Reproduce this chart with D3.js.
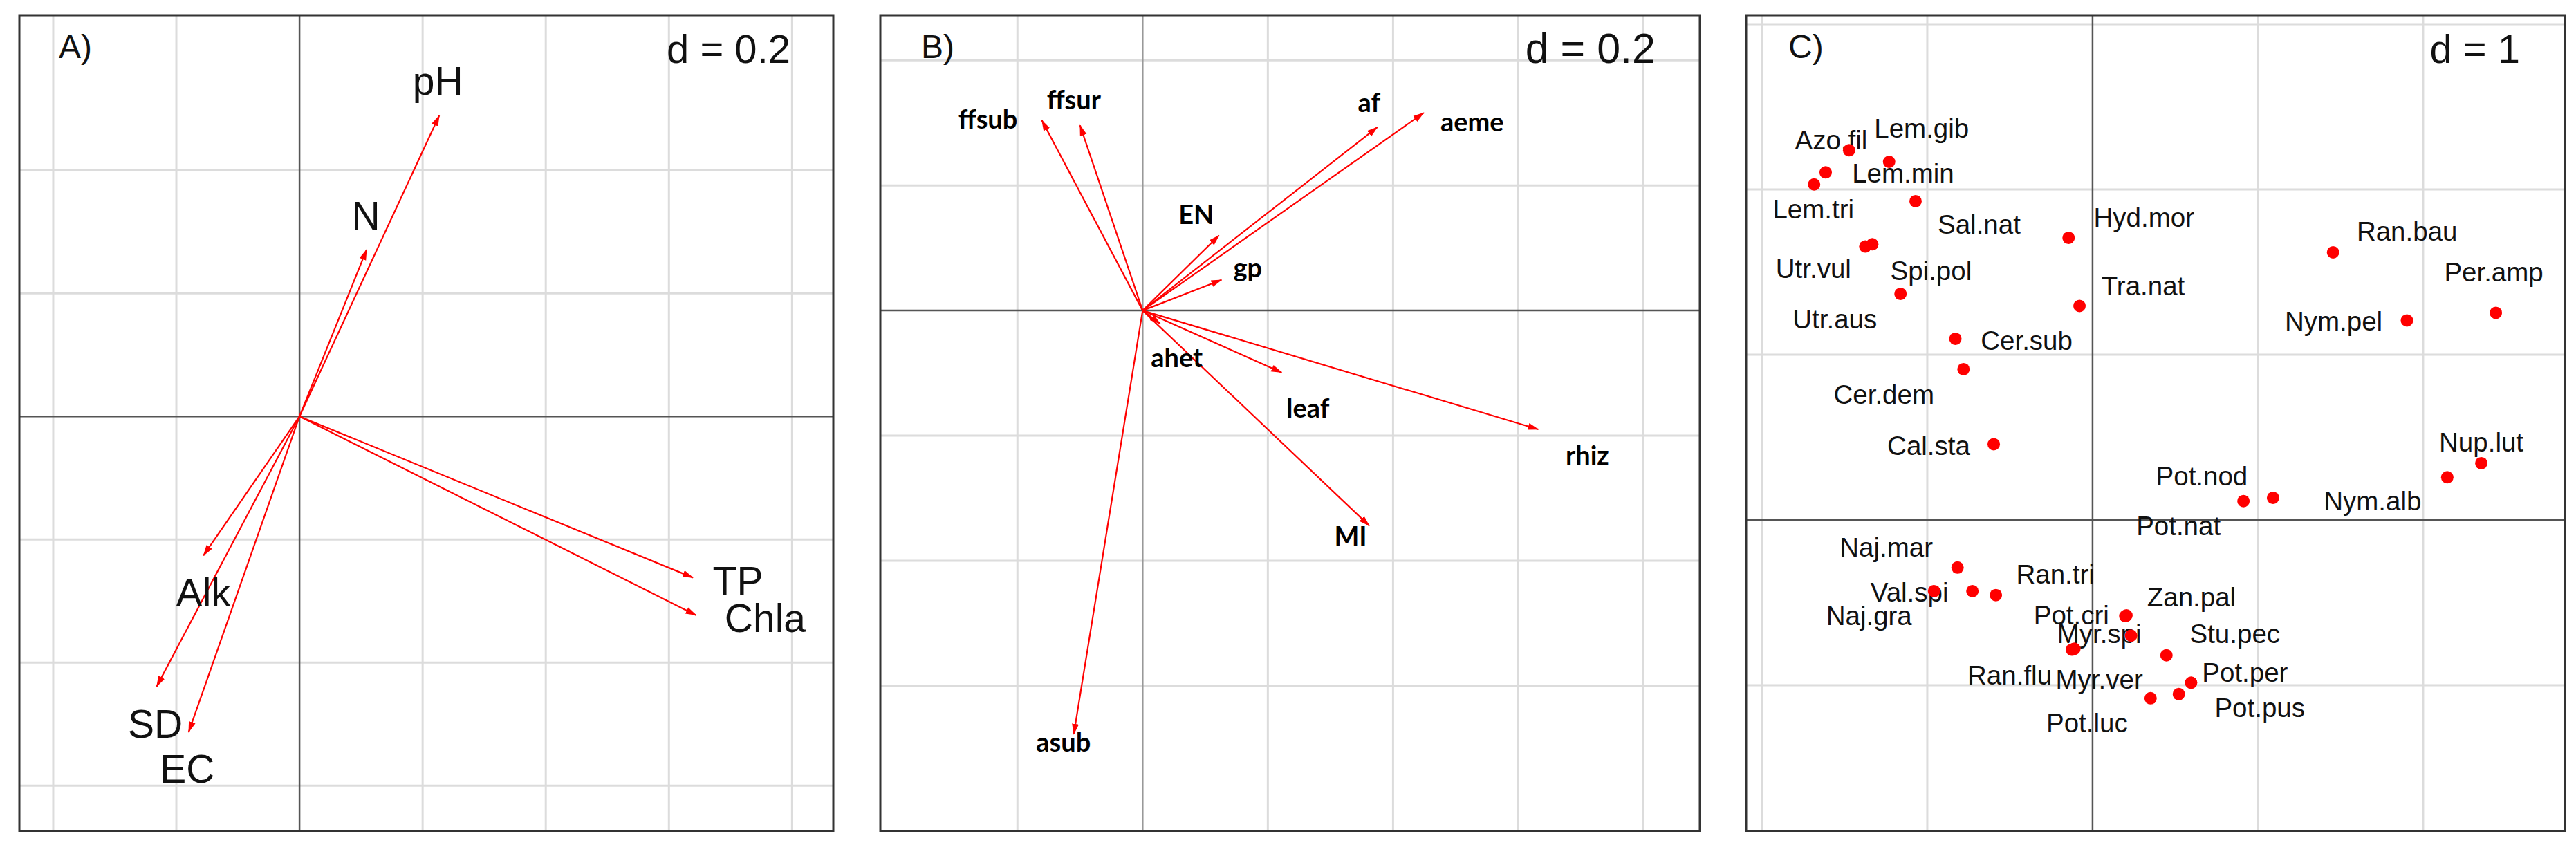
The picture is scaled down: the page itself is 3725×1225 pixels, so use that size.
<!DOCTYPE html>
<html>
<head>
<meta charset="utf-8">
<script src="https://cdn.jsdelivr.net/npm/d3@7"></script>
<style>
  body { margin: 0; background: #fff; }
  svg { display: block; }
</style>
</head>
<body>
<script>
// panel A: environmental variables (arrows)
var envNames = ["pH", "N", "TP", "Chla", "Alk", "SD", "EC"];
var envX = [0.227, 0.109, 0.639, 0.644, -0.156, -0.232, -0.180];
var envY = [0.489, 0.271, -0.262, -0.323, -0.226, -0.439, -0.513];

// panel B: traits (arrows)
var traitNames = ["ffsub", "ffsur", "af", "aeme", "EN", "gp", "ahet", "leaf", "rhiz", "MI", "asub"];
var traitX = [-0.161, -0.100, 0.375, 0.449, 0.122, 0.126, 0.028, 0.222, 0.632, 0.362, -0.110];
var traitY = [0.304, 0.296, 0.293, 0.316, 0.120, 0.049, -0.021, -0.099, -0.190, -0.344, -0.677];

// panel C: species (points)
var spNames = ["Azo.fil", "Lem.gib", "Lem.min", "Lem.tri", "Sal.nat", "Utr.vul", "Spi.pol", "Utr.aus",
  "Hyd.mor", "Tra.nat", "Cer.sub", "Cer.dem", "Cal.sta", "Ran.bau", "Nym.pel", "Per.amp",
  "Nup.lut", "Nym.alb", "Pot.nat", "Pot.nod", "Naj.mar", "Naj.gra", "Val.spi", "Ran.tri",
  "Pot.cri", "Zan.pal", "Myr.spi", "Ran.flu", "Myr.ver", "Stu.pec", "Pot.per", "Pot.pus", "Pot.luc"];
var spX = [-1.473, -1.231, -1.615, -1.685, -1.071, -1.375, -1.333, -1.162,
  -0.145, -0.079, -0.830, -0.781, -0.598, 1.455, 1.902, 2.440,
  2.352, 2.146, 0.913, 1.092, -0.817, -0.959, -0.727, -0.585,
  0.198, 0.205, 0.233, -0.125, -0.110, 0.447, 0.596, 0.522, 0.351];
var spY = [2.237, 2.167, 2.103, 2.030, 1.929, 1.654, 1.668, 1.368,
  1.707, 1.295, 1.096, 0.912, 0.458, 1.619, 1.207, 1.253,
  0.343, 0.258, 0.114, 0.134, -0.288, -0.431, -0.431, -0.455,
  -0.582, -0.578, -0.700, -0.785, -0.780, -0.819, -0.985, -1.054, -1.079];

// grid ticks
var gridA_x = [-0.4, -0.2, 0.2, 0.4, 0.6, 0.8], gridA_y = [-0.6, -0.4, -0.2, 0.2, 0.4];
var gridB_x = [-0.2, 0.2, 0.4, 0.6, 0.8], gridB_y = [-0.6, -0.4, -0.2, 0.2, 0.4];
var gridC_x = [-2, -1, 1, 2], gridC_y = [-1, 1, 2, 3];

// label nudges in px (label baseline relative to tip / point)
var nudgeA = {pH: [-2, -30], N: [-1, -29], TP: [65, 25], Chla: [100, 24], Alk: [0, 74], SD: [-2, 74], EC: [-2, 73]};
var nudgeB = {ffsub: [-78, 12], ffsur: [-9, -23], af: [-12, -22], aeme: [70, 27], EN: [-33, -17], gp: [38, -4],
  ahet: [24, 63], leaf: [38, 65], rhiz: [71, 51], MI: [-27, 29], asub: [-15, 25]};
var nudgeC = {"Azo.fil": [-26, -1], "Lem.gib": [47, -35], "Lem.min": [112, 15], "Lem.tri": [-1, 49],
  "Sal.nat": [92, 47], "Utr.vul": [-75, 45], "Spi.pol": [85, 52], "Utr.aus": [-95, 50],
  "Hyd.mor": [109, -16], "Tra.nat": [92, -15], "Cer.sub": [103, 16], "Cer.dem": [-115, 50],
  "Cal.sta": [-94, 16], "Ran.bau": [107, -17], "Nym.pel": [-106, 15], "Per.amp": [-3, -45],
  "Nup.lut": [0, -17], "Nym.alb": [-108, 48], "Pot.nat": [-94, 49], "Pot.nod": [-103, -18],
  "Naj.mar": [-103, -16], "Naj.gra": [-94, 49], "Val.spi": [-91, 15], "Ran.tri": [86, -17],
  "Pot.cri": [-78, 12], "Zan.pal": [94, -13], "Myr.spi": [-46, 11], "Ran.flu": [-90, 50],
  "Myr.ver": [36, 58], "Stu.pec": [99, -18], "Pot.per": [78, -1], "Pot.pus": [117, 33], "Pot.luc": [-92, 49]};

var W = 3725, H = 1225;
var svg = d3.select("body").append("svg").attr("width", W).attr("height", H);
svg.append("rect").attr("width", W).attr("height", H).attr("fill", "#fff");

// arrow head
svg.append("defs").append("marker")
  .attr("id", "head")
  .attr("markerUnits", "userSpaceOnUse")
  .attr("viewBox", "0 -6 16 12")
  .attr("refX", 15).attr("refY", 0)
  .attr("markerWidth", 16).attr("markerHeight", 12)
  .attr("orient", "auto")
  .append("path").attr("d", "M0,-5L16,0L0,5Z").attr("fill", "#ff0000");

var arial = "'Liberation Sans', Arial, sans-serif";

// set up a panel: scales, grid, axes, frame, titles
function panel(opt) {
  var x = d3.scaleLinear().domain(opt.xd).range([opt.left, opt.right]);
  var y = d3.scaleLinear().domain(opt.yd).range([opt.bottom, opt.top]);
  var g = svg.append("g");

  g.selectAll(".gx").data(opt.gx).enter().append("line")
    .attr("x1", d => x(d)).attr("x2", d => x(d))
    .attr("y1", opt.top).attr("y2", opt.bottom)
    .attr("stroke", "#dcdcdc").attr("stroke-width", 3);
  g.selectAll(".gy").data(opt.gy).enter().append("line")
    .attr("y1", d => y(d)).attr("y2", d => y(d))
    .attr("x1", opt.left).attr("x2", opt.right)
    .attr("stroke", "#dcdcdc").attr("stroke-width", 3);

  // zero lines
  g.append("line").attr("x1", x(0)).attr("x2", x(0)).attr("y1", opt.top).attr("y2", opt.bottom)
    .attr("stroke", opt.vaxis || "#555").attr("stroke-width", 2.5);
  g.append("line").attr("y1", y(0)).attr("y2", y(0)).attr("x1", opt.left).attr("x2", opt.right)
    .attr("stroke", "#555").attr("stroke-width", 2.5);

  // frame
  g.append("rect").attr("x", opt.left).attr("y", opt.top)
    .attr("width", opt.right - opt.left).attr("height", opt.bottom - opt.top)
    .attr("fill", "none").attr("stroke", "#333").attr("stroke-width", 3);

  g.append("text").attr("x", opt.left + opt.tagDx).attr("y", opt.top + 62)
    .attr("font-family", arial).attr("font-size", 48).attr("fill", "#111").text(opt.tag);
  g.append("text").attr("x", opt.right - opt.dDx).attr("y", opt.top + 69)
    .attr("text-anchor", "end").attr("font-family", arial).attr("font-size", opt.dSize)
    .attr("fill", "#111").text(opt.dText);

  return {x: x, y: y, g: g};
}

// A)
var pA = panel({xd: [-0.455, 0.867], yd: [-0.674, 0.652], left: 28, right: 1205, top: 22, bottom: 1202,
  gx: gridA_x, gy: gridA_y, tag: "A)", tagDx: 57, dText: "d = 0.2", dDx: 62, dSize: 58});

pA.g.selectAll(".arr").data(envNames).enter().append("line")
  .attr("x1", pA.x(0)).attr("y1", pA.y(0))
  .attr("x2", (d, i) => pA.x(envX[i])).attr("y2", (d, i) => pA.y(envY[i]))
  .attr("stroke", "#ff0000").attr("stroke-width", 2.2).attr("marker-end", "url(#head)");

pA.g.selectAll(".lab").data(envNames).enter().append("text")
  .attr("x", (d, i) => pA.x(envX[i]) + nudgeA[d][0])
  .attr("y", (d, i) => pA.y(envY[i]) + nudgeA[d][1])
  .attr("text-anchor", "middle").attr("font-family", arial).attr("font-size", 57)
  .attr("fill", "#111").text(d => d);

// B)
var pB = panel({xd: [-0.419, 0.890], yd: [-0.832, 0.472], left: 1273, right: 2458, top: 22, bottom: 1202,
  gx: gridB_x, gy: gridB_y, tag: "B)", tagDx: 59, dText: "d = 0.2", dDx: 64, dSize: 61, vaxis: "#999"});

pB.g.selectAll(".arr").data(traitNames).enter().append("line")
  .attr("x1", pB.x(0)).attr("y1", pB.y(0))
  .attr("x2", (d, i) => pB.x(traitX[i])).attr("y2", (d, i) => pB.y(traitY[i]))
  .attr("stroke", "#ff0000").attr("stroke-width", 2.2).attr("marker-end", "url(#head)");

pB.g.selectAll(".lab").data(traitNames).enter().append("text")
  .attr("x", (d, i) => pB.x(traitX[i]) + nudgeB[d][0])
  .attr("y", (d, i) => pB.y(traitY[i]) + nudgeB[d][1])
  .attr("text-anchor", "middle").attr("font-family", "Lato, 'Open Sans', sans-serif")
  .attr("font-weight", "bold").attr("font-size", 38)
  .attr("fill", "#000").text(d => d);

// C)
var pC = panel({xd: [-2.096, 2.858], yd: [-1.883, 3.054], left: 2525, right: 3709, top: 22, bottom: 1202,
  gx: gridC_x, gy: gridC_y, tag: "C)", tagDx: 61, dText: "d = 1", dDx: 65, dSize: 58});

pC.g.selectAll(".lab").data(spNames).enter().append("text")
  .attr("x", (d, i) => pC.x(spX[i]) + nudgeC[d][0])
  .attr("y", (d, i) => pC.y(spY[i]) + nudgeC[d][1])
  .attr("text-anchor", "middle").attr("font-family", arial).attr("font-size", 38.5)
  .attr("fill", "#111").text(d => d);

pC.g.selectAll(".dot").data(spNames).enter().append("circle")
  .attr("cx", (d, i) => pC.x(spX[i])).attr("cy", (d, i) => pC.y(spY[i]))
  .attr("r", 9).attr("fill", "#ff0000");
</script>
</body>
</html>
